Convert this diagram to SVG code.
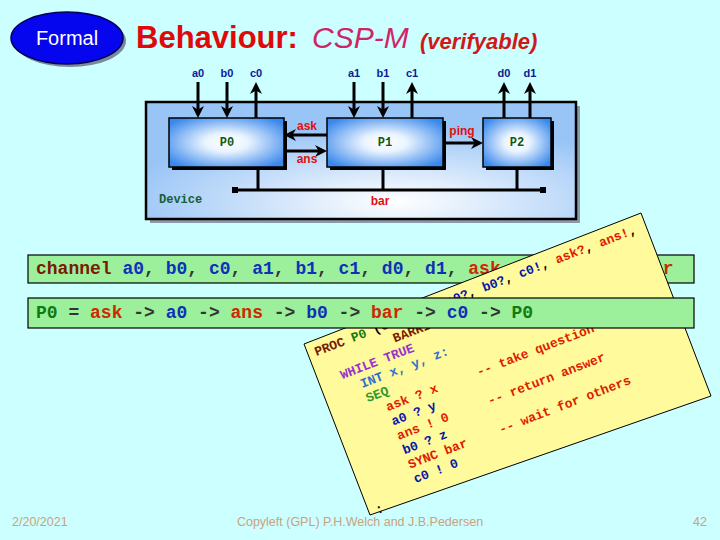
<svg xmlns="http://www.w3.org/2000/svg" width="720" height="540" viewBox="0 0 720 540">
<defs>
<style>
.sans{font-family:"Liberation Sans",Arial,sans-serif}
.mono{font-family:"Liberation Mono","Courier New",monospace;font-weight:bold}
.lbl{font-family:"Liberation Sans",Arial,sans-serif;font-weight:bold;font-size:11px;fill:#0A1A96;text-anchor:middle}
.red{font-family:"Liberation Sans",Arial,sans-serif;font-weight:bold;font-size:12px;fill:#E01010;text-anchor:middle}
.wire{stroke:#000;stroke-width:3;fill:none}
.code{font-size:18px}
.card{font-size:13px}
.bl{fill:#1030B8}
.rd{fill:#D02800}
.dk{fill:#333}
.gr{fill:#117A11}
.mr{fill:#7A1A00}
.pu{fill:#9933CC}
.sb{fill:#2F6FD0}
.sg{fill:#2E9A2E}
.cr{fill:#E01A00}
.cb{fill:#0A14A8}
.pbox{fill:url(#pg);stroke:#000;stroke-width:1.5}
.shadow{fill:#000}
.plabel{font-family:"Liberation Mono","Courier New",monospace;font-weight:bold;font-size:12px;fill:#0E5A14;text-anchor:middle}
.bar{fill:#9CF09C;stroke:#000;stroke-width:1.2}
.foot{font-family:"Liberation Sans",Arial,sans-serif;font-size:12.5px;fill:#C9A27E}
</style>
<radialGradient id="pg" cx="50%" cy="50%" r="62%">
<stop offset="0" stop-color="#FFFFFF"/>
<stop offset="0.3" stop-color="#EAF4FF"/>
<stop offset="1" stop-color="#3A88EC"/>
</radialGradient>
<radialGradient id="dg" cx="58%" cy="85%" r="65%">
<stop offset="0" stop-color="#FFFFFF"/>
<stop offset="1" stop-color="#98C4F6"/>
</radialGradient>
<marker id="ah" viewBox="0 0 10 10" refX="5" refY="5" markerWidth="12" markerHeight="12" markerUnits="userSpaceOnUse" orient="auto">
<path d="M0,0 L10,5 L0,10 L3,5 z" fill="#000"/>
</marker>
</defs>
<rect x="0" y="0" width="720" height="540" fill="#CCFFFF"/>

<g id="formal">
<ellipse cx="70" cy="41" rx="56" ry="26" fill="#7A8A9A"/>
<ellipse cx="67" cy="38" rx="56" ry="26" fill="#0505EE" stroke="#000055" stroke-width="1.5"/>
<text x="67" y="45" class="sans" font-size="20" fill="#FFFFFF" text-anchor="middle">Formal</text>
</g>

<g id="title">
<text x="136" y="48" class="sans" font-size="31" font-weight="bold" fill="#E00808">Behaviour:</text>
<text x="312" y="48" class="sans" font-size="30" font-style="italic" fill="#D02468">CSP-M</text>
<text x="420" y="49" class="sans" font-size="22" font-weight="bold" font-style="italic" fill="#D01818">(verifyable)</text>
</g>

<g id="device">
<rect x="150" y="106" width="430" height="117" fill="#8A9AAA"/>
<rect x="146" y="102" width="430" height="117" fill="url(#dg)" stroke="#000" stroke-width="2.5"/>
<text x="159" y="203" class="mono" font-size="12" fill="#17603A">Device</text>
</g>

<g id="channel-labels">
<text x="198" y="77" class="lbl">a0</text>
<text x="227" y="77" class="lbl">b0</text>
<text x="256" y="77" class="lbl">c0</text>
<text x="354" y="77" class="lbl">a1</text>
<text x="383" y="77" class="lbl">b1</text>
<text x="412" y="77" class="lbl">c1</text>
<text x="504" y="77" class="lbl">d0</text>
<text x="530" y="77" class="lbl">d1</text>
</g>

<g id="p0">
<rect x="172" y="121" width="115" height="49" class="shadow"/>
<rect x="169" y="118" width="115" height="49" class="pbox"/>
<text x="227" y="146" class="plabel">P0</text>
</g>
<g id="p1">
<rect x="330" y="121" width="116" height="49" class="shadow"/>
<rect x="327" y="118" width="116" height="49" class="pbox"/>
<text x="385" y="146" class="plabel">P1</text>
</g>
<g id="p2">
<rect x="486" y="121" width="68" height="49" class="shadow"/>
<rect x="483" y="118" width="68" height="49" class="pbox"/>
<text x="517" y="146" class="plabel">P2</text>
</g>

<g id="connectors">
<line x1="198" y1="82" x2="198" y2="112" class="wire" marker-end="url(#ah)"/>
<line x1="227" y1="82" x2="227" y2="112" class="wire" marker-end="url(#ah)"/>
<line x1="256" y1="118" x2="256" y2="88" class="wire" marker-end="url(#ah)"/>
<line x1="354" y1="82" x2="354" y2="112" class="wire" marker-end="url(#ah)"/>
<line x1="383" y1="82" x2="383" y2="112" class="wire" marker-end="url(#ah)"/>
<line x1="412" y1="118" x2="412" y2="88" class="wire" marker-end="url(#ah)"/>
<line x1="504" y1="118" x2="504" y2="88" class="wire" marker-end="url(#ah)"/>
<line x1="530" y1="118" x2="530" y2="88" class="wire" marker-end="url(#ah)"/>
<line x1="327" y1="135" x2="290" y2="135" class="wire" marker-end="url(#ah)"/>
<line x1="284" y1="151" x2="321" y2="151" class="wire" marker-end="url(#ah)"/>
<line x1="443" y1="143" x2="477" y2="143" class="wire" marker-end="url(#ah)"/>
<line x1="235" y1="190" x2="543" y2="190" class="wire"/>
<rect x="232" y="187" width="6" height="6" fill="#000"/>
<rect x="540" y="187" width="6" height="6" fill="#000"/>
<line x1="258" y1="167" x2="258" y2="190" class="wire"/>
<line x1="383" y1="167" x2="383" y2="190" class="wire"/>
<line x1="517" y1="167" x2="517" y2="190" class="wire"/>
<text x="307" y="130" class="red">ask</text>
<text x="307" y="163" class="red">ans</text>
<text x="462" y="135" class="red">ping</text>
<text x="380" y="205" class="red">bar</text>
</g>

<g id="footer">
<text x="12" y="526" class="foot">2/20/2021</text>
<text x="360" y="526" class="foot" text-anchor="middle">Copyleft (GPL) P.H.Welch and J.B.Pedersen</text>
<text x="707" y="526" class="foot" text-anchor="end">42</text>
</g>

<g id="channel-decl">
<rect x="28" y="255" width="666" height="28" class="bar"/>
<text x="36" y="274" class="mono code"><tspan class="mr">channel</tspan> <tspan class="bl">a0</tspan><tspan class="dk">,</tspan> <tspan class="bl">b0</tspan><tspan class="dk">,</tspan> <tspan class="bl">c0</tspan><tspan class="dk">,</tspan> <tspan class="bl">a1</tspan><tspan class="dk">,</tspan> <tspan class="bl">b1</tspan><tspan class="dk">,</tspan> <tspan class="bl">c1</tspan><tspan class="dk">,</tspan> <tspan class="bl">d0</tspan><tspan class="dk">,</tspan> <tspan class="bl">d1</tspan><tspan class="dk">,</tspan> <tspan class="rd">ask</tspan><tspan class="dk">,</tspan> <tspan class="rd">ans</tspan><tspan class="dk">,</tspan> <tspan class="rd">ping</tspan><tspan class="dk">,</tspan> <tspan class="rd">bar</tspan></text>
</g>

<g id="occam-card">
<polygon points="304,344 641,213 711,396 370,515" fill="#FFFA9C" stroke="#000" stroke-width="1"/>
<g transform="translate(315,352) rotate(-21)" class="mono card">
<text x="0" y="4.3"><tspan class="mr">PROC</tspan> <tspan class="gr">P0</tspan> <tspan fill="#000">(</tspan><tspan class="mr">CHAN INT</tspan> <tspan class="cb">a0?</tspan><tspan fill="#000">,</tspan> <tspan class="cb">b0?</tspan><tspan fill="#000">,</tspan> <tspan class="cb">c0!</tspan><tspan fill="#000">,</tspan> <tspan class="cr">ask?</tspan><tspan fill="#000">,</tspan> <tspan class="cr">ans!</tspan><tspan fill="#000">,</tspan></text>
<text x="78" y="19.7"><tspan class="mr">BARRIER</tspan> <tspan class="cr">bar</tspan><tspan fill="#000">)</tspan></text>
<text x="15.6" y="35.1" class="pu">WHILE TRUE</text>
<text x="31.2" y="50.5" class="sb">INT x, y, z:</text>
<text x="31.2" y="65.9" class="sg">SEQ</text>
<text x="46.8" y="81.3" class="cr">ask ? x</text>
<text x="144" y="81.3" class="cr">-- take question</text>
<text x="46.8" y="96.7" class="cb">a0 ? y</text>
<text x="46.8" y="112.1" class="cr">ans ! 0</text>
<text x="144" y="112.1" class="cr">-- return answer</text>
<text x="46.8" y="127.5" class="cb">b0 ? z</text>
<text x="46.8" y="142.9" class="cr">SYNC bar</text>
<text x="144" y="142.9" class="cr">-- wait for others</text>
<text x="46.8" y="158.3" class="cb">c0 ! 0</text>
<text x="0" y="173.7" fill="#000">:</text>
</g>
</g>

<g id="p0-def">
<rect x="28" y="298" width="666" height="30" class="bar"/>
<text x="36" y="318" class="mono code"><tspan class="gr">P0</tspan> <tspan class="dk">=</tspan> <tspan class="rd">ask</tspan> <tspan class="dk">-&gt;</tspan> <tspan class="bl">a0</tspan> <tspan class="dk">-&gt;</tspan> <tspan class="rd">ans</tspan> <tspan class="dk">-&gt;</tspan> <tspan class="bl">b0</tspan> <tspan class="dk">-&gt;</tspan> <tspan class="rd">bar</tspan> <tspan class="dk">-&gt;</tspan> <tspan class="bl">c0</tspan> <tspan class="dk">-&gt;</tspan> <tspan class="gr">P0</tspan></text>
</g>
</svg>
